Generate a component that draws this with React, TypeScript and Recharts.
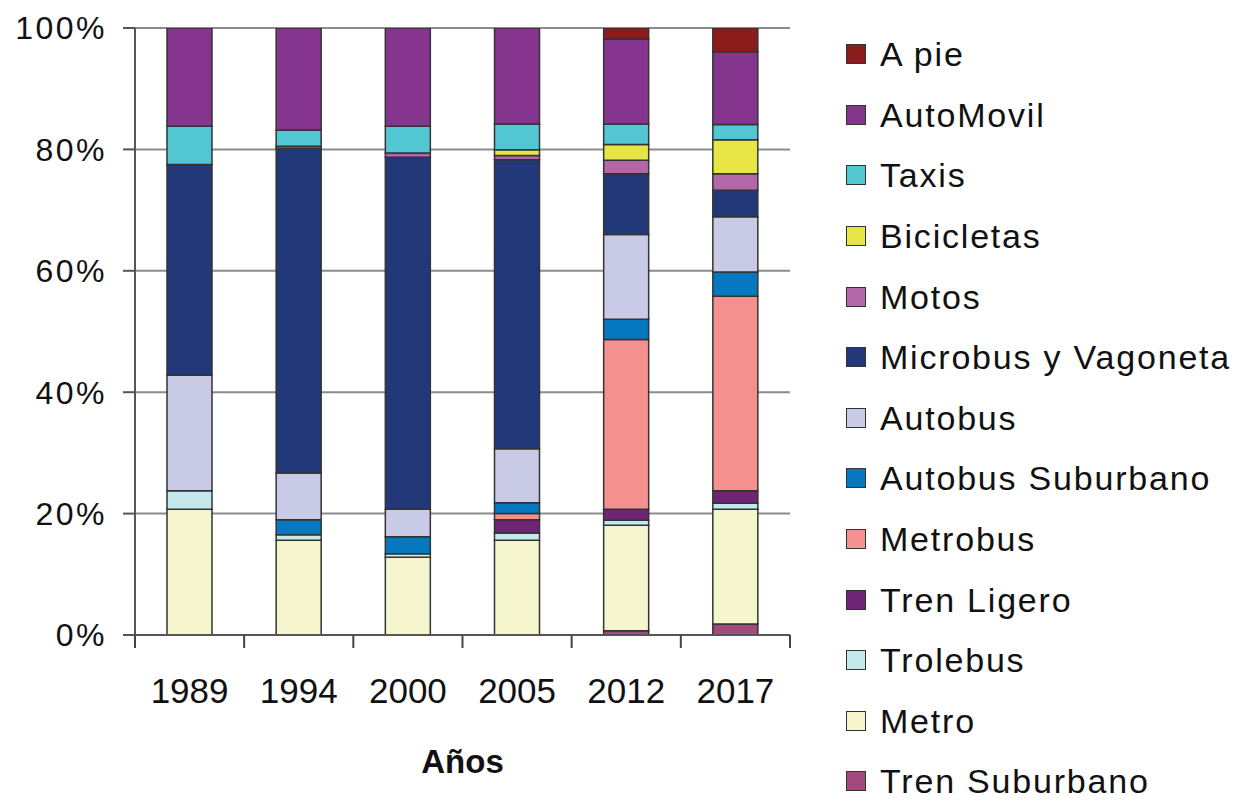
import { BarChart, Bar, XAxis, YAxis, CartesianGrid } from "recharts";

const years = ["1989", "1994", "2000", "2005", "2012", "2017"];

// shares per year, %, bottom of the stack first
const trenSuburbano = [0, 0, 0, 0, 0.7, 1.8];
const metro = [20.7, 15.6, 12.8, 15.6, 17.4, 18.9];
const trolebus = [3.05, 0.9, 0.6, 1.2, 0.8, 1.0];
const trenLigero = [0, 0, 0, 2.2, 1.8, 2.05];
const metrobus = [0, 0, 0, 1.0, 28.0, 32.05];
const autobusSuburbano = [0, 2.5, 2.8, 1.8, 3.3, 4.0];
const autobus = [19.05, 7.7, 4.5, 8.9, 14.0, 9.1];
const microbus = [34.7, 53.5, 58.0, 47.6, 10.0, 4.35];
const motos = [0, 0.3, 0.7, 0.7, 2.2, 2.75];
const bicicletas = [0, 0, 0, 0.95, 2.6, 5.6];
const taxis = [6.3, 2.7, 4.4, 4.25, 3.4, 2.5];
const automovil = [16.2, 16.8, 16.2, 15.8, 14.0, 12.0];
const aPie = [0, 0, 0, 0, 1.8, 3.9];

const yTicks = [0, 20, 40, 60, 80, 100];

const series = [
  { key: "trenSuburbano", name: "Tren Suburbano", values: trenSuburbano, color: "#a24a7e" },
  { key: "metro", name: "Metro", values: metro, color: "#f5f6cd" },
  { key: "trolebus", name: "Trolebus", values: trolebus, color: "#c4e9ed" },
  { key: "trenLigero", name: "Tren Ligero", values: trenLigero, color: "#6f2576" },
  { key: "metrobus", name: "Metrobus", values: metrobus, color: "#f4918f" },
  { key: "autobusSuburbano", name: "Autobus Suburbano", values: autobusSuburbano, color: "#0678c0" },
  { key: "autobus", name: "Autobus", values: autobus, color: "#c9cae6" },
  { key: "microbus", name: "Microbus y Vagoneta", values: microbus, color: "#233878" },
  { key: "motos", name: "Motos", values: motos, color: "#b366a8" },
  { key: "bicicletas", name: "Bicicletas", values: bicicletas, color: "#e8e646" },
  { key: "taxis", name: "Taxis", values: taxis, color: "#53c6d4" },
  { key: "automovil", name: "AutoMovil", values: automovil, color: "#85358e" },
  { key: "aPie", name: "A pie", values: aPie, color: "#8b1c1b" },
];

const data = years.map((year, i) => {
  const row: Record<string, string | number> = { year };
  series.forEach((s) => {
    row[s.key] = s.values[i];
  });
  return row;
});

const font = "'Liberation Sans', Arial, sans-serif";
const half = 54.6;

function YearTick(props: any) {
  const { x, y, payload, index } = props;
  return (
    <g>
      <line x1={x - half} y1={y} x2={x - half} y2={y + 13} stroke="#444" strokeWidth={2} />
      {index === years.length - 1 && (
        <line x1={x + half} y1={y} x2={x + half} y2={y + 13} stroke="#444" strokeWidth={2} />
      )}
      <text x={x} y={y + 68} textAnchor="middle" fontSize={35} fill="#111" fontFamily={font}>
        {payload.value}
      </text>
    </g>
  );
}

function LegendList() {
  return (
    <div style={{ position: "absolute", left: 846, top: 24, fontFamily: font }}>
      {[...series].reverse().map((s) => (
        <div
          key={s.key}
          style={{ display: "flex", alignItems: "center", height: 60.6, lineHeight: "36px" }}
        >
          <div
            style={{
              width: 18,
              height: 18,
              background: s.color,
              border: "1.5px solid #333",
              marginRight: 14,
            }}
          />
          <span style={{ fontSize: 34, letterSpacing: 1.8, color: "#111" }}>{s.name}</span>
        </div>
      ))}
    </div>
  );
}

export default function App() {
  return (
    <div style={{ position: "absolute", left: 0, top: 0, width: 1237, height: 805, background: "#fff", overflow: "hidden" }}>
      <BarChart
        width={1237}
        height={805}
        data={data}
        margin={{ top: 28, right: 447, left: 0, bottom: 0 }}
        barSize={45}
      >
        <CartesianGrid vertical={false} stroke="#8c8c8c" strokeWidth={2} />
        <XAxis
          dataKey="year"
          height={170}
          tickLine={false}
          tickSize={0}
          tickMargin={0}
          axisLine={{ stroke: "#555", strokeWidth: 2 }}
          tick={<YearTick />}
          interval={0}
          label={{
            value: "Años",
            position: "insideBottom",
            offset: 32,
            fontSize: 33,
            fontWeight: "bold",
            fill: "#111",
            fontFamily: font,
          }}
        />
        <YAxis
          width={135}
          domain={[0, 100]}
          ticks={yTicks}
          tickFormatter={(v) => `${v}%`}
          tickSize={12}
          tickMargin={16}
          tickLine={{ stroke: "#555", strokeWidth: 2 }}
          axisLine={{ stroke: "#555", strokeWidth: 2 }}
          tick={{ fontSize: 32, fill: "#111", fontFamily: font, letterSpacing: 2.5 }}
          allowDataOverflow
        />
        <YAxis
          yAxisId="right"
          orientation="right"
          width={0}
          domain={[0, 100]}
          tick={false}
          tickLine={false}
          axisLine={{ stroke: "#999", strokeWidth: 2 }}
        />
        {series.map((s) => (
          <Bar
            key={s.key}
            dataKey={s.key}
            name={s.name}
            stackId="a"
            fill={s.color}
            stroke="#333"
            strokeWidth={1.5}
            isAnimationActive={false}
          />
        ))}
      </BarChart>
      <LegendList />
    </div>
  );
}
